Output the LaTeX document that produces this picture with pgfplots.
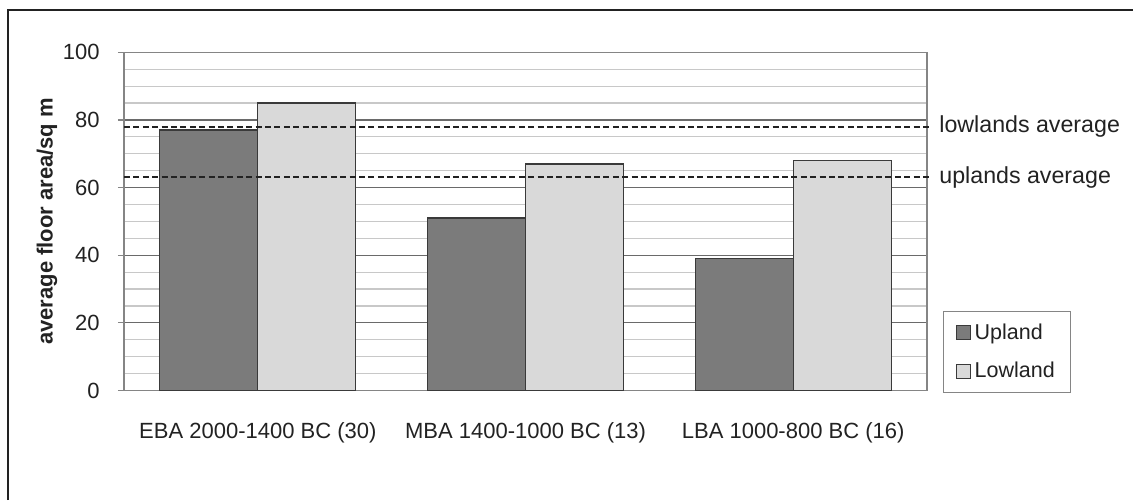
\documentclass[border=0pt]{standalone}
\usepackage{pgfplots}
\pgfplotsset{compat=1.18}
\usepackage{fontspec}
\setmainfont{Liberation Sans}

\definecolor{uplandfill}{HTML}{7B7B7B}
\definecolor{lowlandfill}{HTML}{D9D9D9}
\definecolor{baredge}{HTML}{3A3A3A}
\definecolor{majorgrid}{HTML}{6A6A6A}
\definecolor{minorgrid}{HTML}{C8C8C8}
\definecolor{frame}{HTML}{858585}
\definecolor{ink}{HTML}{222222}

\begin{document}
\begin{tikzpicture}
\useasboundingbox (0,0) rectangle (566.5pt,250pt);
% outer frame (top and left edges)
\draw[line width=1pt, ink] (4pt,0pt) -- (4pt,245pt) -- (566.5pt,245pt);

\begin{axis}[
  at={(62pt,54.75pt)}, anchor=south west,
  scale only axis, width=401.5pt, height=169.1pt,
  xmin=-0.5, xmax=2.5, ymin=0, ymax=100,
  clip=false,
  /pgf/number format/assume math mode=true,
  font=\fontsize{11}{13}\selectfont,
  axis line style={frame, line width=0.6pt},
  ytick={0,20,...,100}, minor y tick num=3,
  ymajorgrids, yminorgrids,
  major grid style={majorgrid, line width=0.6pt},
  minor grid style={minorgrid, line width=0.6pt},
  ytick pos=left, xtick pos=bottom,
  tick align=outside,
  major tick length=3pt, minor tick length=0pt,
  tick style={frame, line width=0.6pt},
  yticklabel style={anchor=east, inner sep=0pt, xshift=-9pt, text=ink},
  xtick={0,1,2},
  xticklabels={EBA 2000-1400 BC (30), MBA 1400-1000 BC (13), LBA 1000-800 BC (16)},
  x tick style={draw=none},
  xticklabel style={anchor=base, inner sep=0pt, yshift=-21pt, text=ink},
  extra x ticks={-0.5,0.5,1.5,2.5},
  extra x tick labels={},
  extra x tick style={tick style={draw=frame, line width=0.6pt}, major tick length=3pt},
  ylabel={\bfseries average floor area/sq m},
  y label style={at={(axis description cs:-0.096,0.5)}, anchor=center, text=ink},
  legend style={
    at={(rel axis cs:1.02,-0.008)}, anchor=south west,
    draw=frame, line width=0.6pt,
    font=\fontsize{10.75}{12}\selectfont, text=ink,
    inner xsep=6pt, inner ysep=4pt, row sep=6pt,
    legend cell align=left,
  },
  legend image code/.code={\draw[#1, line width=0.5pt] (0pt,-3.5pt) rectangle (7pt,3.5pt);},
]
\addplot[ybar, bar width=0.366, bar shift=-0.183, fill=uplandfill, draw=baredge, line width=0.6pt]
  coordinates {(0,77) (1,51) (2,39)};
\addlegendentry{Upland}
\addplot[ybar, bar width=0.366, bar shift=0.183, fill=lowlandfill, draw=baredge, line width=0.6pt]
  coordinates {(0,85) (1,67) (2,68)};
\addlegendentry{Lowland}

% period averages
\addplot[ink, line width=1pt, dash pattern=on 3pt off 1.7pt, forget plot]
  coordinates {(-0.5,78) (2.51,78)};
\addplot[ink, line width=1pt, dash pattern=on 3pt off 1.7pt, forget plot]
  coordinates {(-0.5,63) (2.51,63)};
\node[anchor=west, inner sep=0pt, text=ink, font=\fontsize{11.6}{13}\selectfont]
  at (axis cs:2.5,78) [xshift=6pt] {lowlands average};
\node[anchor=west, inner sep=0pt, text=ink, font=\fontsize{11.6}{13}\selectfont]
  at (axis cs:2.5,63) [xshift=6pt] {uplands average};
\end{axis}
\end{tikzpicture}
\end{document}
